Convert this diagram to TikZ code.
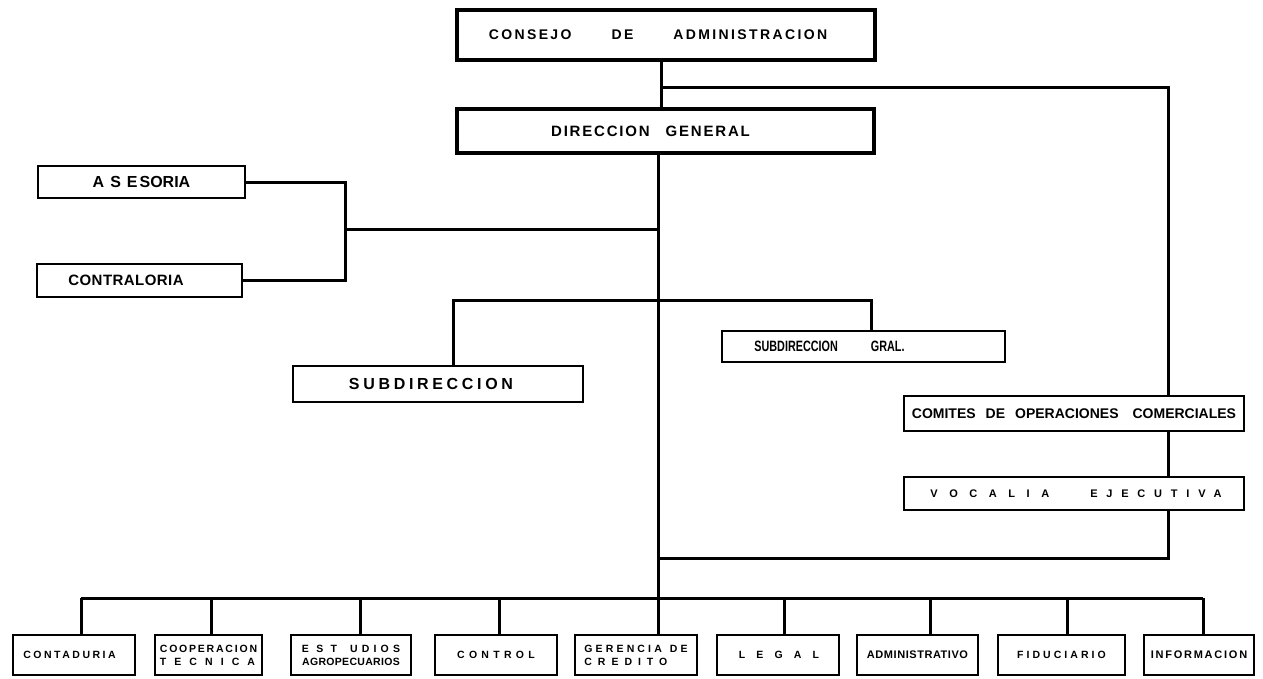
\documentclass[tikz,border=0pt]{standalone}
\usepackage{fontspec}
\setmainfont{Liberation Sans}
\usepackage{graphicx}
\newcommand{\LS}[2]{{\addfontfeature{LetterSpace=#1}#2}}
\newcommand{\trail}[1]{\hspace*{#1}\null}
\begin{document}
\begin{tikzpicture}[x=1pt,y=-1pt,
  box/.style={draw, line width=1.8pt, inner sep=0pt, font=\bfseries},
  topbox/.style={box, line width=4pt},
  lowbox/.style={box, line width=1.9pt, minimum height=40pt, align=center, font={\bfseries\fontsize{10.5}{13}\selectfont}},
  link/.style={line width=3pt, line join=miter}]
\useasboundingbox (0,0) rectangle (1263,678);

% top boxes
\node[topbox, minimum width=418pt, minimum height=50pt, font={\bfseries\fontsize{14}{16}\selectfont}] (consejo) at (666,35)
  {\LS{17}{CONSEJO}\hspace{40pt}\LS{17}{DE}\hspace{40pt}\LS{17}{ADMINISTRACION}\trail{16pt}};
\node[topbox, minimum width=417pt, minimum height=44pt, font={\bfseries\fontsize{15}{17}\selectfont}] (direccion) at (665.5,131)
  {\LS{12}{DIRECCION}\hspace{16pt}\LS{12}{GENERAL}\trail{30pt}};

% staff
\node[box, minimum width=207pt, minimum height=32pt, font={\bfseries\fontsize{16}{18}\selectfont}] (asesoria) at (141.5,182)
  {A\hspace{6pt}S\hspace{6pt}E\hspace{2pt}SORIA};
\node[box, minimum width=205pt, minimum height=33pt, font={\bfseries\fontsize{15}{17}\selectfont}] (contraloria) at (139.5,280.5)
  {\LS{3}{CONTRALORIA}\trail{27pt}};

% sub
\node[box, minimum width=290pt, minimum height=36pt, font={\bfseries\fontsize{16}{18}\selectfont}] (subdir) at (438,384)
  {\LS{23}{SUBDIRECCION}\trail{14pt}};
\node[box, minimum width=283pt, minimum height=31pt, font={\bfseries\fontsize{15}{17}\selectfont}] (subgral) at (863.5,346.5)
  {\scalebox{0.72}[1]{SUBDIRECCION\hspace{46pt}GRAL.}\trail{68pt}};

% right column
\node[box, minimum width=340pt, minimum height=35pt, font={\bfseries\fontsize{14}{16}\selectfont}] (comites) at (1074,413.5)
  {COMITES\hspace{10pt}DE\hspace{10pt}OPERACIONES\hspace{14pt}COMERCIALES};
\node[box, minimum width=340pt, minimum height=33pt, font={\bfseries\fontsize{11}{13}\selectfont}] (vocalia) at (1074,493.5)
  {\hspace{4pt}\LS{105}{VOCALIA}\hspace{41pt}\LS{80}{EJECUTIVA}};

% bottom row
\node[lowbox, minimum width=122pt] (contad) at (74,655) {\LS{24}{CONTADURIA}\trail{9pt}};
\node[lowbox, minimum width=107pt, align=left] (coop) at (208.5,655) {\LS{17}{COOPERACION}\\\LS{77}{TECNICA}};
\node[lowbox, minimum width=120pt] (estud) at (351,655) {\LS{70}{EST}\hspace{13pt}\LS{40}{UDIOS}\\\LS{3}{AGROPECUARIOS}};
\node[lowbox, minimum width=122pt] (control) at (496,655) {\LS{41}{CONTROL}};
\node[lowbox, minimum width=122pt, align=left] (gerencia) at (636,655) {\LS{30}{GERENCIA}\hspace{8pt}\LS{30}{DE}\\\LS{57}{CREDITO}};
\node[lowbox, minimum width=122pt] (legal) at (778,655) {\hspace{2pt}\LS{106}{LEGAL}};
\node[lowbox, minimum width=121pt, font={\bfseries\fontsize{11}{13}\selectfont}] (admin) at (917.5,655) {\LS{5}{ADMINISTRATIVO}};
\node[lowbox, minimum width=127pt] (fiduc) at (1061.5,655) {\LS{29}{FIDUCIARIO}};
\node[lowbox, minimum width=110pt, font={\bfseries\fontsize{11}{13}\selectfont}] (inform) at (1199,655) {\LS{16}{INFORMACION}};

% coordinates
\coordinate (t) at (661,87);
\coordinate (r) at (1168,87);
\coordinate (m) at (658,598);
\coordinate (k) at (345,229);
\coordinate (sl) at (453,300);
\coordinate (sr) at (871,300);
\coordinate (v) at (1168,558);
\coordinate (b1) at (81,598);
\coordinate (b2) at (211,598);
\coordinate (b3) at (360,598);
\coordinate (b4) at (499,598);
\coordinate (b6) at (784,598);
\coordinate (b7) at (930,598);
\coordinate (b8) at (1067,598);
\coordinate (b9) at (1203,598);

% connectors
\draw[link] (consejo.south -| t) -- (direccion.north -| t);
\draw[link] (t) -- (r) -- (comites.north -| r);
\draw[link] (direccion.south -| m) -- (m);
\draw[link] (asesoria.east) -| (k);
\draw[link] (contraloria.east) -| (k);
\draw[link] (k) -- (k -| m);
\draw[link] (sl |- subdir.north) -- (sl) -- (sr) -- (sr |- subgral.north);
\draw[link] (comites.south -| r) -- (vocalia.north -| r);
\draw[link] (vocalia.south -| v) -- (v) -- (v -| m);
\draw[link] (b1) -- (b9);
\draw[link] (b1) -- (b1 |- contad.north);
\draw[link] (b2) -- (b2 |- coop.north);
\draw[link] (b3) -- (b3 |- estud.north);
\draw[link] (b4) -- (b4 |- control.north);
\draw[link] (m) -- (m |- gerencia.north);
\draw[link] (b6) -- (b6 |- legal.north);
\draw[link] (b7) -- (b7 |- admin.north);
\draw[link] (b8) -- (b8 |- fiduc.north);
\draw[link] (b9) -- (b9 |- inform.north);
\end{tikzpicture}
\end{document}
